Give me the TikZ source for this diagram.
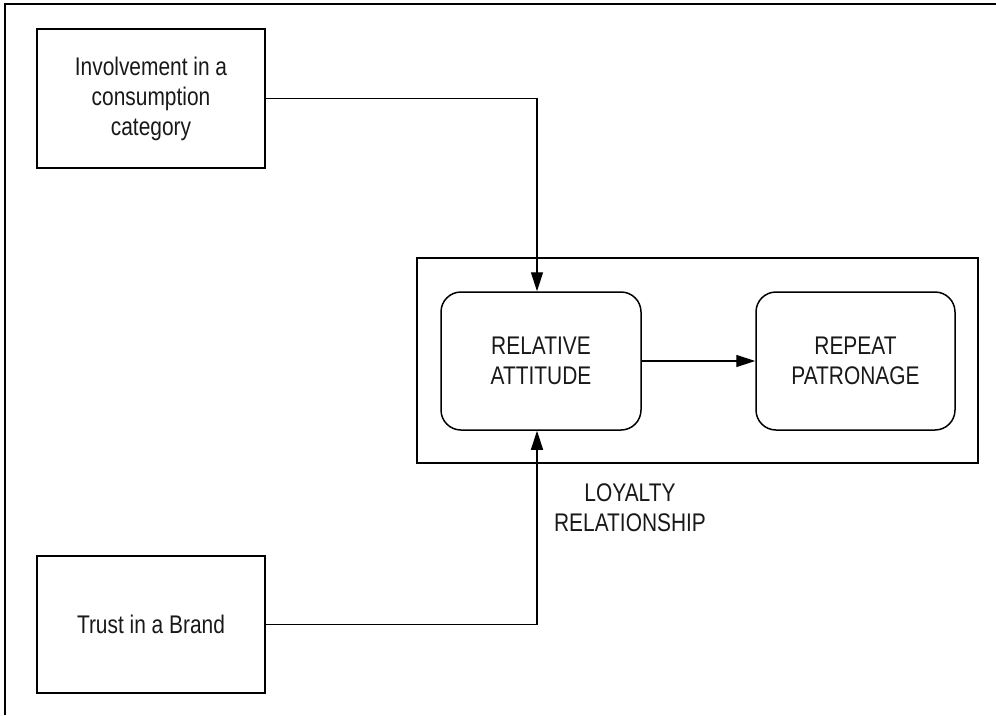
\documentclass[tikz,border=0pt]{standalone}
\usepackage{fontspec}
\setmainfont{Liberation Sans}[FakeStretch=0.82]
\usetikzlibrary{arrows.meta}
\begin{document}
\begin{tikzpicture}[x=1pt,y=-1pt,
  every node/.style={font=\fontsize{25.5}{30}\selectfont, align=center, inner sep=0pt, text=black!90},
  sqbox/.style={draw=black, line width=1.5pt, rectangle},
  rbox/.style={draw=black, line width=1.5pt, rectangle, rounded corners=20pt},
  arr/.style={line width=1.4pt, -{Triangle[length=19pt,width=12pt]}}]
\useasboundingbox (0,0) rectangle (996,715);
\draw[line width=2pt] (5,715) -- (5,4) -- (996,4);
\node[sqbox, minimum width=228pt, minimum height=139pt] (inv) at (151,98.5) {Involvement in a\\consumption\\category};
\node[sqbox, minimum width=228pt, minimum height=137pt] (trust) at (151,624.5) {Trust in a Brand};
\node[sqbox, minimum width=561pt, minimum height=205pt] (cont) at (697.5,360.5) {};
\node[rbox, minimum width=200pt, minimum height=138pt] (ra) at (541,361) {RELATIVE\\ATTITUDE};
\node[rbox, minimum width=199pt, minimum height=138pt] (rp) at (855.5,361) {REPEAT\\PATRONAGE};
\node (lbl) at (630,508) {LOYALTY\\RELATIONSHIP};
\draw[arr] (inv.east) -| ([xshift=-4pt]ra.north);
\draw[arr] (trust.east) -| ([xshift=-4pt]ra.south);
\draw[arr] (ra.east) -- (rp.west);
\end{tikzpicture}
\end{document}
